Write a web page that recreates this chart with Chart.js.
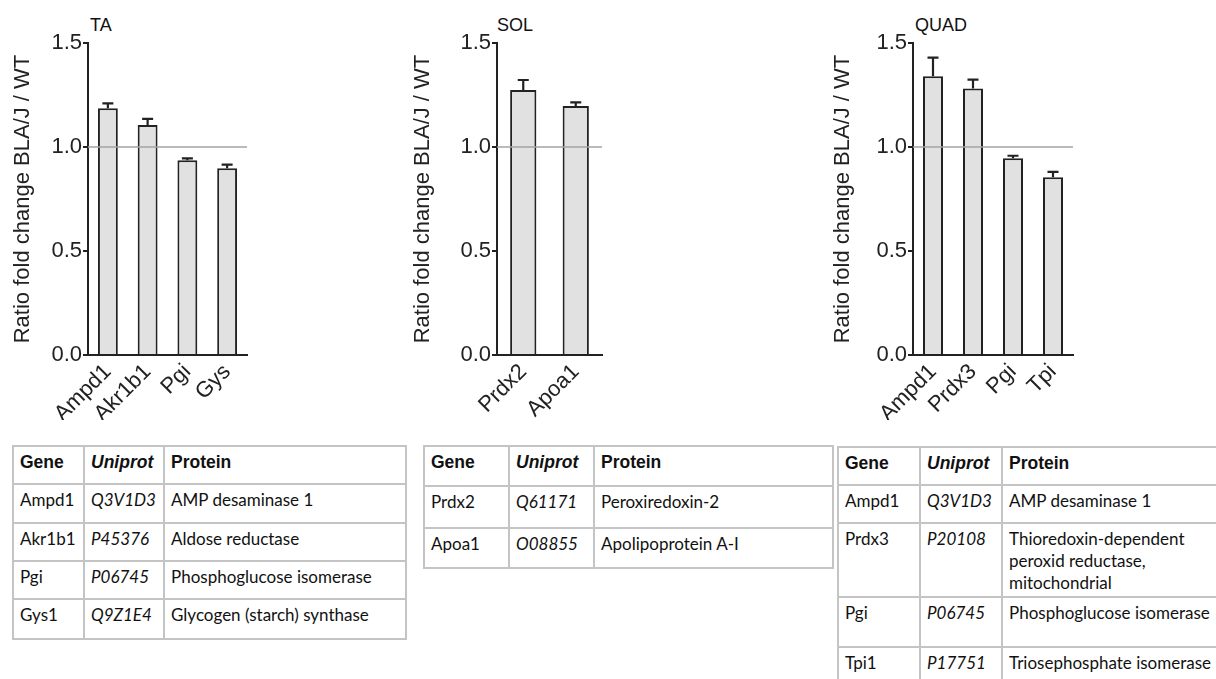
<!DOCTYPE html>
<html>
<head>
<meta charset="utf-8">
<script src="https://cdn.jsdelivr.net/npm/chart.js@4.4.1/dist/chart.umd.min.js"></script>
<style>
  body { margin: 0; width: 1216px; height: 679px; overflow: hidden; background: #fff; position: relative;
    font-family: "Liberation Sans", Arial, sans-serif; color: #111; }
  canvas { position: absolute; top: 0; }
  .ttl { position: absolute; top: 14px; font-size: 18px; line-height: 22px; }
  table { position: absolute; border-collapse: collapse; table-layout: fixed;
    font-family: Lato, sans-serif; font-size: 17px; color: #111; }
  td, th { border: 2px solid #c4c4c4; padding: 4px 6px 0; vertical-align: top; text-align: left;
    line-height: 22px; overflow: hidden; white-space: nowrap; }
  td.wrap { white-space: normal; }
  th { font-family: "Liberation Sans", Arial, sans-serif; font-weight: bold; font-size: 17.5px; }
  .id { font-style: italic; }
</style>
</head>
<body>
<div class="ttl" style="left:90px">TA</div>
<div class="ttl" style="left:497px">SOL</div>
<div class="ttl" style="left:915px">QUAD</div>
<canvas id="ta" width="260" height="420" style="left:0px"></canvas>
<canvas id="sol" width="220" height="420" style="left:400px"></canvas>
<canvas id="quad" width="270" height="420" style="left:820px"></canvas>
<table id="taTable" style="left:12px;top:445px"></table>
<table id="solTable" style="left:423px;top:445px"></table>
<table id="quadTable" style="left:837px;top:446px"></table>
<script>
// bar heights = fold change BLA/J vs WT, err = upper SEM whisker
const taGenes = ['Ampd1', 'Akr1b1', 'Pgi', 'Gys'];
const taRatio = [1.186, 1.106, 0.936, 0.898];
const taErr = [0.024, 0.029, 0.009, 0.017];

const solGenes = ['Prdx2', 'Apoa1'];
const solRatio = [1.274, 1.197];
const solErr = [0.048, 0.018];

const quadGenes = ['Ampd1', 'Prdx3', 'Pgi', 'Tpi'];
const quadRatio = [1.340, 1.281, 0.946, 0.855];
const quadErr = [0.090, 0.043, 0.012, 0.025];

const yTicks = [0, 0.5, 1.0, 1.5];

const taRows = [
  ['Ampd1', 'Q3V1D3', 'AMP desaminase 1'],
  ['Akr1b1', 'P45376', 'Aldose reductase'],
  ['Pgi', 'P06745', 'Phosphoglucose isomerase'],
  ['Gys1', 'Q9Z1E4', 'Glycogen (starch) synthase']
];
const solRows = [
  ['Prdx2', 'Q61171', 'Peroxiredoxin-2'],
  ['Apoa1', 'O08855', 'Apolipoprotein A-I']
];
const quadRows = [
  ['Ampd1', 'Q3V1D3', 'AMP desaminase 1'],
  ['Prdx3', 'P20108', 'Thioredoxin-dependent peroxid reductase, mitochondrial'],
  ['Pgi', 'P06745', 'Phosphoglucose isomerase'],
  ['Tpi1', 'P17751', 'Triosephosphate isomerase']
];

const ink = '#222';
const axisFont = { family: '"Liberation Sans", Arial, sans-serif', size: 22 };

// whiskers (up only) plus the grey line at ratio 1
const errorBars = {
  id: 'errorBars',
  afterDatasetsDraw(chart, args, opts) {
    const { ctx, chartArea, scales: { y } } = chart;
    const vals = chart.data.datasets[0].data;
    ctx.save();
    const one = y.getPixelForValue(1);
    ctx.strokeStyle = '#a3a3a3';
    ctx.lineWidth = 1.5;
    ctx.beginPath();
    ctx.moveTo(chartArea.left, one);
    ctx.lineTo(chartArea.right, one);
    ctx.stroke();
    ctx.strokeStyle = ink;
    ctx.lineWidth = 2.2;
    chart.getDatasetMeta(0).data.forEach((bar, i) => {
      const top = y.getPixelForValue(vals[i] + opts.errs[i]);
      ctx.beginPath();
      ctx.moveTo(bar.x, bar.y);
      ctx.lineTo(bar.x, top);
      ctx.moveTo(bar.x - 5.5, top);
      ctx.lineTo(bar.x + 5.5, top);
      ctx.stroke();
    });
    ctx.restore();
  }
};

function makeChart(id, labels, values, errs, yWidth, rightPad) {
  const canvas = document.getElementById(id);
  const xHeight = canvas.height - 355;
  return new Chart(canvas, {
    type: 'bar',
    data: {
      labels,
      datasets: [{
        data: values,
        backgroundColor: '#e1e1e1', borderColor: ink, borderWidth: 2,
        barPercentage: 0.5, categoryPercentage: 1
      }]
    },
    options: {
      responsive: false, animation: false,
      layout: { padding: { top: 43, right: rightPad, bottom: 0, left: 0 } },
      plugins: { legend: { display: false }, tooltip: { enabled: false }, errorBars: { errs } },
      scales: {
        x: {
          grid: { display: false, drawTicks: false },
          border: { display: true, color: ink, width: 2 },
          ticks: { color: ink, font: axisFont, minRotation: 45, maxRotation: 45, autoSkip: false, padding: 4 },
          afterFit: (s) => { s.height = xHeight; }
        },
        y: {
          min: 0, max: 1.5,
          afterBuildTicks: (s) => { s.ticks = yTicks.map(v => ({ value: v })); },
          grid: { drawOnChartArea: false, drawTicks: true, tickLength: 5, color: ink, lineWidth: 2 },
          border: { display: true, color: ink, width: 2 },
          ticks: { color: ink, font: axisFont, padding: 1, callback: (v) => Number(v).toFixed(1) },
          title: { display: true, text: 'Ratio fold change BLA/J / WT', color: ink, font: axisFont,
            padding: { top: 10, bottom: 0 } },
          afterFit: (s) => { s.width = yWidth; }
        }
      }
    },
    plugins: [errorBars]
  });
}

makeChart('ta', taGenes, taRatio, taErr, 88, 13);
makeChart('sol', solGenes, solRatio, solErr, 97, 18);
makeChart('quad', quadGenes, quadRatio, quadErr, 93, 17);

function makeTable(id, rows, colW, rowH) {
  const t = document.getElementById(id);
  t.style.width = colW.reduce((a, b) => a + b, 0) + 'px';
  let html = '<colgroup>' + colW.map(w => `<col style="width:${w}px">`).join('') + '</colgroup>';
  html += `<tr style="height:${rowH[0]}px"><th>Gene</th><th class="id">Uniprot</th><th>Protein</th></tr>`;
  rows.forEach((r, i) => {
    html += `<tr style="height:${rowH[i + 1]}px"><td>${r[0]}</td><td class="id">${r[1]}</td>` +
      `<td class="wrap">${r[2]}</td></tr>`;
  });
  t.innerHTML = html;
}

makeTable('taTable', taRows, [71, 80, 242], [38, 39, 38, 38, 40]);
makeTable('solTable', solRows, [85, 85, 239], [40, 42, 40]);
makeTable('quadTable', quadRows, [82, 82, 222], [38, 38, 74, 50, 50]);
</script>
</body>
</html>
